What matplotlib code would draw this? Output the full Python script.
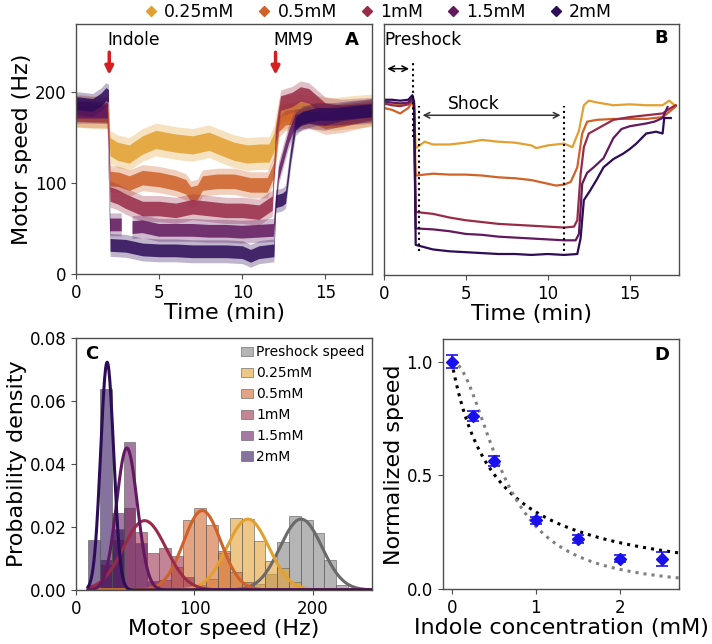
import numpy as np
import matplotlib
matplotlib.use('Agg')
import matplotlib.pyplot as plt
from matplotlib.lines import Line2D
from matplotlib.patches import Patch

W, H = 712, 644

conc_labels = ['0.25mM', '0.5mM', '1mM', '1.5mM', '2mM']
conc_colors = ['#E2A030', '#CF6229', '#992B48', '#62195F', '#2D0C58']

# ---------------- Panel A: single-motor traces (centre level, spread) ----------------
a_t_025 = [0, 1.0, 1.9, 2.05, 2.5, 3.2, 4.0, 4.8, 6.0, 7.0, 8.0, 8.8, 9.5, 10.3, 11.0, 11.6, 11.9, 12.2, 12.6, 13.5, 14.5, 15.5, 16.5, 17.8]
a_v_025 = [180, 178, 178, 140, 135, 132, 142, 148, 144, 142, 146, 140, 135, 132, 133, 133, 145, 175, 178, 180, 178, 176, 178, 180]
a_t_05 = [0, 1.9, 2.05, 2.6, 3.2, 4.0, 5.0, 6.0, 6.6, 6.9, 7.3, 7.6, 8.5, 9.5, 10.5, 11.5, 11.9, 12.2, 12.6, 14.0, 15.0, 16.0, 17.8]
a_v_05 = [176, 175, 105, 104, 100, 106, 104, 100, 96, 88, 90, 100, 102, 102, 98, 98, 115, 165, 172, 175, 168, 170, 178]
a_t_1 = [0, 1.9, 2.05, 2.5, 3.0, 3.5, 4.0, 5.0, 6.0, 7.0, 8.0, 9.0, 10.0, 11.0, 11.8, 12.0, 12.3, 13.0, 13.5, 14.0, 14.5, 15.0, 16.0, 17.8]
a_v_1 = [182, 180, 88, 85, 80, 76, 72, 72, 70, 74, 72, 70, 70, 68, 78, 150, 188, 192, 198, 196, 188, 180, 178, 180]
a_t_15 = [0, 1.9, 2.05, 2.75, 2.76, 3.39, 3.4, 4.0, 5.0, 6.0, 7.0, 8.0, 9.0, 10.0, 11.0, 11.9, 12.2, 12.5, 12.8, 13.2, 14.0, 15.0, 16.0, 17.8]
a_v_15 = [178, 178, 54, 54, np.nan, np.nan, 51, 52, 48, 48, 48, 47, 47, 46, 47, 48, 110, 130, 150, 168, 172, 170, 175, 180]
a_t_2 = [0, 1.0, 1.5, 1.8, 1.95, 2.05, 3.0, 4.0, 5.0, 6.0, 7.0, 8.0, 9.0, 10.0, 10.5, 11.0, 11.9, 12.0, 12.4, 12.6, 12.9, 13.2, 13.6, 14.5, 15.5, 16.5, 17.8]
a_v_2 = [188, 186, 192, 198, 196, 32, 31, 27, 26, 26, 25, 25, 25, 24, 20, 24, 26, 80, 82, 85, 130, 165, 172, 176, 176, 178, 180]
a_spread = [10, 8, 8, 7, 7]

# ---------------- Panel B: averaged traces ----------------
b_t_025 = [0, 0.5, 1.0, 1.5, 1.75, 1.85, 1.95, 2.5, 3, 4, 5, 6, 7, 8, 9, 9.3, 10, 11, 11.5, 11.9, 12.2, 12.5, 13, 14, 15, 16, 17, 17.4, 17.8]
b_v_025 = [187, 188, 186, 188, 196, 185, 139, 146, 143, 143, 145, 148, 146, 145, 142, 139, 142, 144, 140, 158, 186, 191, 189, 186, 187, 186, 186, 191, 185]
b_t_05 = [0, 0.5, 1.0, 1.5, 1.75, 1.85, 1.95, 3, 4, 5, 6, 7, 8, 9, 10, 10.5, 11, 11.4, 11.8, 12.1, 12.4, 13, 14, 15, 16, 17, 17.5, 17.8]
b_v_05 = [183, 181, 177, 183, 190, 180, 109, 111, 110, 110, 109, 107, 106, 104, 100, 98, 99, 102, 118, 155, 168, 170, 171, 171, 171, 173, 180, 185]
b_t_1 = [0, 0.5, 1, 1.5, 1.75, 1.85, 1.95, 3, 4, 5, 6, 7, 8, 9, 10, 11, 11.6, 11.8, 12.0, 12.2, 12.5, 13.0, 13.5, 14, 15, 16, 17, 17.5, 17.8]
b_v_1 = [188, 186, 185, 187, 192, 185, 69, 67, 63, 60, 58, 56, 55, 54, 53, 52, 53, 60, 110, 140, 155, 160, 165, 170, 173, 175, 177, 183, 186]
b_t_15 = [0, 0.5, 1, 1.5, 1.75, 1.85, 1.95, 3, 4, 5, 6, 7, 8, 9, 10, 11, 11.7, 11.9, 12.1, 12.4, 12.8, 13.4, 14.0, 14.5, 15, 16, 16.5, 17, 17.3]
b_v_15 = [190, 189, 188, 189, 194, 188, 51, 50, 48, 45, 44, 42, 41, 40, 39, 38, 38, 45, 100, 112, 118, 128, 150, 160, 163, 166, 168, 172, 184]
b_t_2 = [0, 0.5, 1, 1.5, 1.75, 1.85, 1.95, 3, 4, 5, 6, 7, 8, 9, 10, 11, 11.8, 12.0, 12.2, 12.6, 13.0, 13.4, 14.0, 14.6, 15.0, 15.4, 16.0, 16.6, 17.0, 17.1, 17.5]
b_v_2 = [192, 192, 191, 192, 197, 190, 33, 28, 26, 25, 24, 23, 23, 22, 23, 22, 23, 40, 82, 93, 105, 118, 127, 133, 138, 144, 155, 157, 155, 172, 172]

# ---------------- Panel C: histograms (10 Hz bins) and Gaussian fits ----------------
hist_labels = ['Preshock speed'] + conc_labels
hist_colors = ['#808080'] + conc_colors
hist_start = [150, 100, 70, 10, 20, 10]
hist_pre = [0.002, 0.0051, 0.0154, 0.0235, 0.0222, 0.0182, 0.0095, 0.0016]
hist_025 = [0.0015, 0.0034, 0.0118, 0.023, 0.0225, 0.0157, 0.0092, 0.0069, 0.0026]
hist_05 = [0.0032, 0.0074, 0.0222, 0.026, 0.0207, 0.0124, 0.0058, 0.0026]
hist_1 = [0.0015, 0.008, 0.016, 0.026, 0.0184, 0.0118, 0.0134, 0.0107, 0.004]
hist_15 = [0.0095, 0.0245, 0.047, 0.015, 0.003]
hist_2 = [0.0158, 0.0639, 0.0195]
fit_mean = [190.2, 145.2, 106.6, 57.8, 42.8, 26.1]
fit_sd = [17.7, 17.7, 15.8, 18.1, 8.84, 5.51]
fit_line_colors = ['#6A6A6A'] + conc_colors

# ---------------- Panel D ----------------
d_conc = [0, 0.25, 0.5, 1.0, 1.5, 2.0, 2.5]
d_speed = [1.0, 0.761, 0.564, 0.303, 0.2225, 0.135, 0.132]
d_err = [0.028, 0.024, 0.022, 0.016, 0.017, 0.016, 0.031]
fit_black_K, fit_black_n = 0.515, 1.0
fit_gray_K, fit_gray_n = 0.62, 2.0

fig = plt.figure(figsize=(W / 100, H / 100), dpi=100)

def box(l, t, r, b):
    return [l / W, 1 - b / H, (r - l) / W, (b - t) / H]

axA = fig.add_axes(box(76, 24, 372, 274))
axB = fig.add_axes(box(383.7, 24, 679, 275))
axC = fig.add_axes(box(76.3, 338.3, 371.7, 590))
axD = fig.add_axes(box(442.7, 339.3, 679.3, 589.3))

for ax in (axA, axB, axC, axD):
    for s in ax.spines.values():
        s.set_color('0.3')
        s.set_linewidth(1.0)
    ax.tick_params(labelsize=12, color='0.3')

lab_fs = 16

# Panel A
a_ts = [a_t_025, a_t_05, a_t_1, a_t_15, a_t_2]
a_vs = [a_v_025, a_v_05, a_v_1, a_v_15, a_v_2]
for t, v, c, s in zip(a_ts, a_vs, conc_colors, a_spread):
    t = np.array(t, float); v = np.array(v, float)
    axA.fill_between(t, v - 1.8 * s, v + 1.8 * s, color=c, alpha=0.3, linewidth=0)
    axA.fill_between(t, v - s, v + s, color=c, alpha=0.85, linewidth=0)
axA.set_xlim(0, 17.8)
axA.set_ylim(0, 275)
axA.set_xticks([0, 5, 10, 15])
axA.set_yticks([0, 100, 200])
axA.set_xlabel('Time (min)', fontsize=lab_fs, labelpad=1)
axA.set_ylabel('Motor speed (Hz)', fontsize=lab_fs, labelpad=2)
for tx, lab in ((2.0, 'Indole'), (12.0, 'MM9')):
    axA.annotate('', xy=(tx, 216), xytext=(tx, 247),
                 arrowprops=dict(arrowstyle='-|>', color='#D42020', lw=2.5, mutation_scale=12))
    axA.text(tx - 0.12, 257, lab, fontsize=12.3, ha='left', va='center')
axA.text(0.956, 0.972, 'A', transform=axA.transAxes, ha='right', va='top', fontsize=13, fontweight='bold')

# Panel B
b_ts = [b_t_025, b_t_05, b_t_1, b_t_15, b_t_2]
b_vs = [b_v_025, b_v_05, b_v_1, b_v_15, b_v_2]
for t, v, c in zip(b_ts, b_vs, conc_colors):
    axB.plot(t, v, color=c, lw=1.6)
axB.set_xlim(0, 18)
axB.set_ylim(0, 275)
axB.set_xticks([0, 5, 10, 15])
axB.set_yticks([])
axB.set_xlabel('Time (min)', fontsize=lab_fs, labelpad=1)
axB.plot([1.77, 1.77], [151, 232], ls=':', color='black', lw=1.5)
axB.plot([2.15, 2.15], [26, 185], ls=':', color='black', lw=1.5)
axB.plot([11.0, 11.0], [26, 185], ls=':', color='black', lw=1.5)
axB.annotate('', xy=(0.05, 226), xytext=(1.72, 226),
             arrowprops=dict(arrowstyle='<->', color='black', lw=1.1, mutation_scale=10))
axB.annotate('', xy=(2.2, 175), xytext=(10.95, 175),
             arrowprops=dict(arrowstyle='<->', color='#333333', lw=1.1, mutation_scale=10))
axB.text(0.02, 258, 'Preshock', fontsize=12.3, ha='left', va='center')
axB.text(5.5, 187, 'Shock', fontsize=12.3, ha='center', va='center')
axB.text(0.962, 0.98, 'B', transform=axB.transAxes, ha='right', va='top', fontsize=13, fontweight='bold')

# Panel C
hists = [hist_pre, hist_025, hist_05, hist_1, hist_15, hist_2]
for st, hv, c, lab in zip(hist_start, hists, hist_colors, hist_labels):
    edges = st + 10 * np.arange(len(hv))
    axC.bar(edges, hv, width=10, align='edge', color=c, alpha=0.58,
            edgecolor='0.35', linewidth=0.7, label=lab)
xx = np.linspace(10, 250, 600)
for m, s, c in zip(fit_mean, fit_sd, fit_line_colors):
    pdf = np.exp(-0.5 * ((xx - m) / s) ** 2) / (s * np.sqrt(2 * np.pi))
    axC.plot(xx, pdf, color=c, lw=2.2)
axC.set_xlim(0, 250)
axC.set_ylim(0, 0.08)
axC.set_xticks([0, 100, 200])
axC.set_yticks([0, 0.02, 0.04, 0.06, 0.08])
axC.set_yticklabels(['0.00', '0.02', '0.04', '0.06', '0.08'])
axC.set_xlabel('Motor speed (Hz)', fontsize=lab_fs, labelpad=1)
axC.set_ylabel('Probability density', fontsize=lab_fs, labelpad=2)
axC.legend(loc='upper right', frameon=False, fontsize=10, handlelength=0.9, handleheight=0.65,
           handletextpad=0.2, labelspacing=0.5, borderaxespad=0.2, borderpad=0.3)
axC.text(0.03, 0.972, 'C', transform=axC.transAxes, ha='left', va='top', fontsize=13, fontweight='bold')

# Panel D
cc = np.linspace(0, 2.71, 300)
axD.plot(cc, 1 / (1 + (cc / fit_black_K) ** fit_black_n), ls=':', color='black', lw=2.2)
axD.plot(cc, 1 / (1 + (cc / fit_gray_K) ** fit_gray_n), ls=':', color='#808080', lw=2.2)
axD.errorbar(d_conc, d_speed, yerr=d_err, fmt='D', color='#1A10EE', ecolor='#1A10EE',
             markersize=6.5, capsize=4, elinewidth=1.2, capthick=1.2)
axD.set_xlim(-0.107, 2.71)
axD.set_ylim(0, 1.098)
axD.set_xticks([0, 1, 2])
axD.set_yticks([0, 0.5, 1.0])
axD.set_xlabel('Indole concentration (mM)', fontsize=lab_fs, labelpad=1)
axD.set_ylabel('Normalized speed', fontsize=lab_fs, labelpad=2)
axD.text(0.957, 0.972, 'D', transform=axD.transAxes, ha='right', va='top', fontsize=13, fontweight='bold')

# Top legend
leg_handles = [Line2D([], [], ls='none', marker='D', markersize=5.5, color=c) for c in conc_colors]
fig.legend(leg_handles, conc_labels, loc='center', bbox_to_anchor=(377 / W, 1 - 12 / H), ncol=5,
           frameon=False, fontsize=12.4, handlelength=1.0, handletextpad=0.26, columnspacing=1.25,
           borderpad=0.1)

fig.savefig('out.png', dpi=100)
